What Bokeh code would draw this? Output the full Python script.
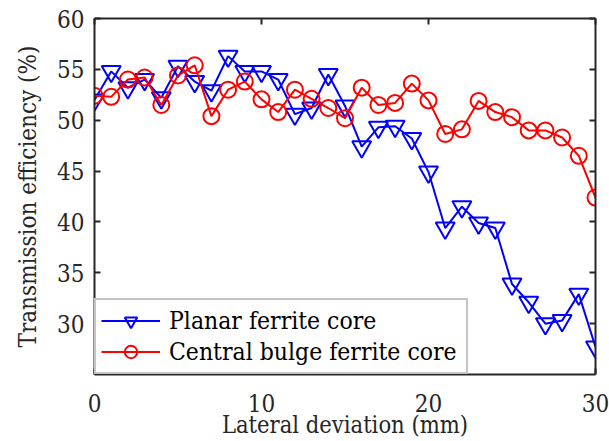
from bokeh.plotting import figure
from bokeh.models import LinearAxis, FixedTicker, Legend, LegendItem, Range1d
from bokeh.embed import file_html
from bokeh.resources import INLINE

# Lateral deviation (mm) and measured transmission efficiency (%)
deviation = list(range(31))
planar = [52.0, 54.8, 53.2, 54.0, 52.2, 55.3, 53.8, 52.9, 56.3, 54.8, 54.8,
          54.0, 50.6, 51.2, 54.5, 51.4, 47.4, 49.3, 49.4, 48.2, 44.9,
          39.4, 41.5, 39.9, 39.4, 33.9, 32.1, 30.0, 30.3, 32.9, 27.7]
central = [52.4, 52.3, 54.0, 54.2, 51.5, 54.4, 55.4, 50.4, 53.0, 53.8, 52.05,
           50.8, 53.0, 52.1, 51.2, 50.2, 53.2, 51.5, 51.7, 53.6, 51.95,
           48.65, 49.1, 51.9, 50.8, 50.3, 49.0, 49.0, 48.3, 46.5, 42.4]
x_ticks = [0, 10, 20, 30]
y_ticks = [30, 35, 40, 45, 50, 55, 60]
labels = ["Planar ferrite core", "Central bulge ferrite core"]

INK = "#262626"
SERIF = "DejaVu Serif Condensed"

p = figure(width=609, height=441, output_backend="svg", toolbar_location=None,
           x_range=Range1d(0, 30), y_range=Range1d(25, 60),
           min_border_left=94, min_border_right=14, min_border_top=18,
           min_border_bottom=64)
p.background_fill_color = "white"
p.border_fill_color = "white"
p.outline_line_color = None
p.xgrid.visible = False
p.ygrid.visible = False

# main axes
for ax in (p.xaxis[0], p.yaxis[0]):
    ax.axis_line_color = INK
    ax.axis_line_width = 2
    ax.major_tick_line_color = INK
    ax.major_tick_line_width = 2
    ax.major_tick_in = 6
    ax.major_tick_out = 0
    ax.minor_tick_line_color = None
    ax.major_label_text_font = SERIF
    ax.major_label_text_font_size = "24px"
    ax.major_label_text_color = INK
    ax.axis_label_text_font = SERIF
    ax.axis_label_text_font_style = "normal"
    ax.axis_label_text_color = INK

p.xaxis[0].axis_label_text_font_size = "23.5px"
p.yaxis[0].axis_label_text_font_size = "24px"

p.xaxis[0].ticker = FixedTicker(ticks=x_ticks)
p.yaxis[0].ticker = FixedTicker(ticks=y_ticks)
p.xaxis[0].axis_label = "Lateral deviation (mm)"
p.yaxis[0].axis_label = "Transmission efficiency (%)"
p.xaxis[0].major_label_standoff = 19
p.xaxis[0].axis_label_standoff = -4
p.yaxis[0].major_label_standoff = 10
p.yaxis[0].axis_label_standoff = 12

# box: right and top axes with inward ticks, no labels
for loc, tk in (("right", y_ticks), ("above", x_ticks)):
    ax = LinearAxis(ticker=FixedTicker(ticks=tk))
    ax.axis_line_color = INK
    ax.axis_line_width = 2
    ax.major_tick_line_color = INK
    ax.major_tick_line_width = 2
    ax.major_tick_in = 6
    ax.major_tick_out = 0
    ax.minor_tick_line_color = None
    ax.major_label_overrides = {t: "" for t in tk}
    ax.major_label_text_font_size = "1px"
    ax.major_label_standoff = 0
    p.add_layout(ax, loc)

# series
l1 = p.line(deviation, planar, line_color="blue", line_width=2)
m1 = p.scatter(deviation, planar, marker="inverted_triangle", size=19,
               line_color="blue", line_width=2, fill_color=None)
l2 = p.line(deviation, central, line_color="red", line_width=2)
m2 = p.scatter(deviation, central, marker="circle", size=16,
               line_color="red", line_width=2, fill_color=None)

legend = Legend(items=[LegendItem(label=labels[0], renderers=[l1, m1]),
                       LegendItem(label=labels[1], renderers=[l2, m2])],
                location=(0, 0), margin=0, padding=5, spacing=0,
                glyph_width=59, glyph_height=31, label_height=31,
                label_width=292, label_standoff=9,
                label_text_font=SERIF, label_text_font_size="24.5px",
                label_text_color="black",
                border_line_color="#8a8a8a", border_line_width=2,
                background_fill_color="white", background_fill_alpha=1.0)
legend.padding = 5
p.add_layout(legend, "center")

open("out.html", "w").write(file_html(p, INLINE))
